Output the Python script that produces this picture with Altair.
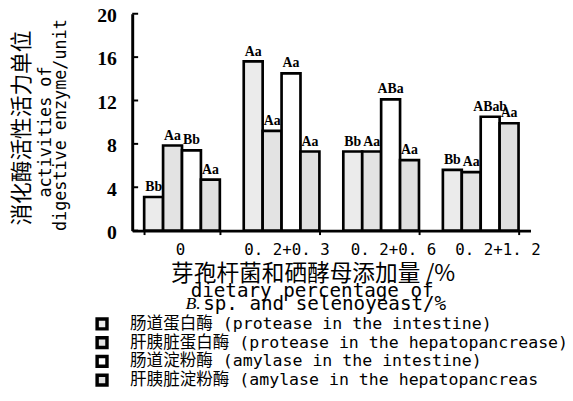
import altair as alt
import pandas as pd

groups = ["0", "0. 2+0. 3", "0. 2+0. 6", "0. 2+1. 2"]
series = [
    "肠道蛋白酶 (protease in the intestine)",
    "肝胰脏蛋白酶 (protease in the hepatopancrease)",
    "肠道淀粉酶 (amylase in the intestine)",
    "肝胰脏淀粉酶 (amylase in the hepatopancreas",
]
protease_intestine = [3.1, 15.6, 7.3, 5.6]
protease_hepato = [7.85, 9.2, 7.3, 5.4]
amylase_intestine = [7.4, 14.5, 12.1, 10.5]
amylase_hepato = [4.7, 7.3, 6.5, 9.9]
sig_protease_intestine = ["Bb", "Aa", "Bb", "Bb"]
sig_protease_hepato = ["Aa", "Aa", "Aa", "Aa"]
sig_amylase_intestine = ["Bb", "Aa", "ABa", "ABab"]
sig_amylase_hepato = ["Aa", "Aa", "Aa", "Aa"]
y_ticks = [0, 4, 8, 12, 16, 20]

fills = ["#ebebeb", "#e3e3e3", "#ffffff", "#dfdfdf"]

vals = [protease_intestine, protease_hepato, amylase_intestine, amylase_hepato]
sigs = [sig_protease_intestine, sig_protease_hepato, sig_amylase_intestine, sig_amylase_hepato]
rows = []
for s, v, g in zip(series, vals, sigs):
    for grp, val, sg in zip(groups, v, g):
        rows.append({"group": grp, "series": s, "value": val, "sig": sg})
df = pd.DataFrame(rows)

MONO = "DejaVu Sans Mono, Noto Sans CJK SC"

x_label_shift = {
    "condition": [
        {"test": "datum.value === '%s'" % groups[0], "value": -2},
        {"test": "datum.value === '%s'" % groups[1], "value": 5},
        {"test": "datum.value === '%s'" % groups[2], "value": 12},
    ],
    "value": 17,
}

x_enc = alt.X(
    "group:N", sort=groups,
    scale=alt.Scale(paddingInner=0.24, paddingOuter=0.12),
    axis=alt.Axis(title=None, labelAngle=0, tickBand="extent", labelFont=MONO,
                  labelFontSize=16, labelColor="black", domainColor="black",
                  domainWidth=3, tickColor="black", tickWidth=2, tickSize=4,
                  labelPadding=7, grid=False, labelOffset=x_label_shift),
)
xoff_enc = alt.XOffset("series:N", sort=series, scale=alt.Scale(paddingInner=0, paddingOuter=0))
y_enc = alt.Y(
    "value:Q", scale=alt.Scale(domain=[0, 20], nice=False),
    axis=alt.Axis(values=y_ticks, title=None, ticks=False, grid=False,
                  labelFont="Liberation Serif", labelFontWeight="bold", labelFontSize=20,
                  labelColor="black", labelPadding=16, labelOffset=2,
                  domainColor="black", domainWidth=3),
)

bars = alt.Chart(df).mark_bar(stroke="black", strokeWidth=2.7).encode(
    x=x_enc, xOffset=xoff_enc, y=y_enc,
    color=alt.Color(
        "series:N", sort=series,
        scale=alt.Scale(domain=series, range=fills),
        legend=alt.Legend(title=None, orient="none", legendX=-39, legendY=306,
                          symbolType="square", symbolSize=100,
                          symbolStrokeColor="black", symbolStrokeWidth=3.5,
                          labelFont=MONO, labelFontSize=16.8, labelLimit=600,
                          labelOffset=20, rowPadding=1, clipHeight=17.3,
                          padding=0, labelColor="black"),
    ),
)

letters = alt.Chart(df).mark_text(
    font="Liberation Serif", fontWeight="bold", fontSize=14, baseline="bottom", dy=-3, color="black"
).encode(x=alt.X("group:N", sort=groups), xOffset=alt.XOffset("series:N", sort=series),
         y=alt.Y("value:Q"), text="sig:N")

yt = alt.Chart(pd.DataFrame({"value": y_ticks})).mark_rule(color="black", strokeWidth=2).encode(
    y=alt.Y("value:Q"), x=alt.value(0), x2=alt.value(6)
)


def txt(s, x, y, size, font, angle=0, align="center", style="normal", weight="normal"):
    d = pd.DataFrame({"t": [s]})
    return alt.Chart(d).mark_text(
        font=font, fontSize=size, angle=angle, align=align, baseline="middle",
        fontStyle=style, fontWeight=weight, color="black"
    ).encode(text="t:N", x=alt.value(x), y=alt.value(y))


titles = [
    txt("消化酶活性活力单位", -112, 116, 22, "Noto Sans CJK SC", angle=270),
    txt("activities of", -87.5, 120, 17, MONO, angle=270),
    txt("digestive enzyme/unit", -72, 113, 17, MONO, angle=270),
    txt("芽孢杆菌和硒酵母添加量 /%", 183.5, 264, 23, "Noto Sans CJK SC"),
    txt("dietary percentage of", 182.5, 281, 19.5, MONO),
    txt("B.", 54, 295, 18, "Liberation Serif", align="left", style="italic"),
    txt("sp. and selenoyeast/%", 72, 295, 19.5, MONO, align="left"),
]

chart = alt.layer(bars, letters, yt, *titles).properties(
    width=404, height=220,
    autosize=alt.AutoSizeParams(type="none"),
    padding={"left": 126, "top": 3, "right": 35, "bottom": 170},
).configure_view(stroke="transparent")

chart.save("out.html", embed_options={"renderer": "svg", "actions": False})
